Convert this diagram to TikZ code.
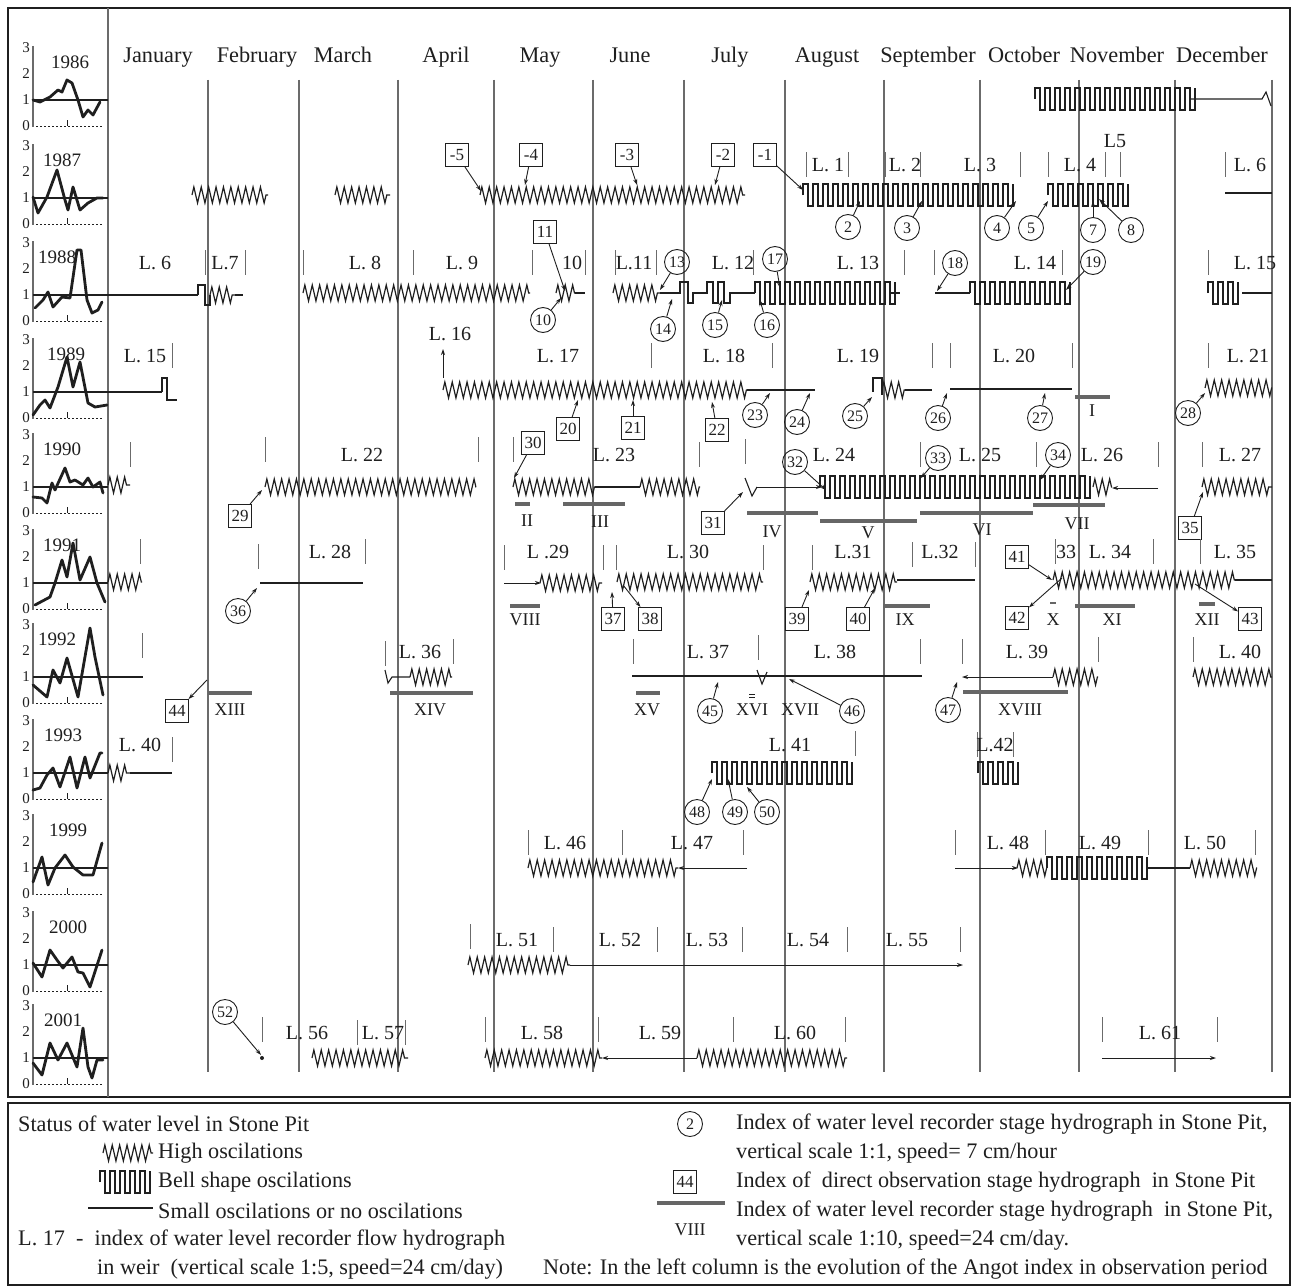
\documentclass[tikz,border=0pt]{standalone}
\usepackage{fontspec}
\setmainfont{Liberation Serif}
\usetikzlibrary{decorations.pathmorphing,arrows.meta}
\definecolor{ink}{gray}{0.12}
\definecolor{mline}{gray}{0.42}
\definecolor{stg}{gray}{0.40}
\tikzset{
  hiosc/.style={decorate,decoration={zigzag,segment length=7.4pt,amplitude=8pt},line width=1.2pt,draw=ink},
  wave/.style={line width=1.1pt,draw=ink},
  flat/.style={line width=1.5pt,draw=ink},
  monthline/.style={line width=1.1pt,draw=mline},
  tickl/.style={line width=1pt,draw=mline},
  stage/.style={line width=3.6pt,draw=stg},
  arr/.style={-{Stealth[length=6pt,width=4pt]},line width=0.9pt,draw=ink},
  llab/.style={font=\fontsize{20}{22}\selectfont,text=ink,inner sep=1pt},
  mlab/.style={font=\fontsize{22.3}{25}\selectfont,text=ink,inner sep=1pt,anchor=base},
  circ/.style={circle,draw=ink,line width=0.9pt,inner sep=0pt,minimum size=25pt,font=\fontsize{16}{17}\selectfont,text=ink},
  boxl/.style={rectangle,draw=ink,line width=0.9pt,inner sep=1pt,minimum width=23pt,minimum height=23pt,font=\fontsize{17}{18}\selectfont,text=ink},
  roml/.style={font=\fontsize{18}{19}\selectfont,text=ink,inner sep=1pt},
  yrlab/.style={font=\fontsize{19}{20}\selectfont,text=ink,inner sep=0pt},
  axlab/.style={font=\fontsize{15}{16}\selectfont,text=ink,inner sep=0pt},
  leg/.style={font=\fontsize{22.2}{24}\selectfont,text=ink,anchor=west,inner sep=0pt},
}
\newcommand\mkTick[2]{\draw[tickl] (#1,#2-13) -- (#1,#2+12);}
\newcommand\mkL[4]{\node[llab] (#1) at (#2,#3) {#4};}
\newcommand\mkC[4]{\node[circ] (c#1) at (#2,#3) {#1};\coordinate (t#1) at (#4);\draw[arr] (c#1) -- (t#1);}
\newcommand\mkB[5]{\node[boxl] (#1) at (#3,#4) {#2};\coordinate (#1t) at (#5);\draw[arr] (#1) -- (#1t);}
\newcommand\mkBR[5]{\node[boxl] (#1) at (#3,#4) {#2};\coordinate (#1t) at (#5);\draw[arr] (#1t) -- (#1);}
\newcommand\mkBell[3]{\pgfmathtruncatemacro\nbell{max(1,round((#2-(#1))/10))}\draw[wave] (#1,#3) -- (#1,#3-11) \foreach \k in {1,...,\nbell}{ -- ++(5,0) -- ++(0,22) -- ++(5,0) -- ++(0,-22)};}
\newcommand\mkStg[7]{\draw[stage] (#2,#4) -- (#3,#4);\node[roml] (#1) at (#6,#7) {#5};}
\newcommand\mkYear[4]{%
  \draw[line width=1.5pt,draw=mline] (33,#1-54) -- (33,#1+27);
  \draw[line width=1.1pt,draw=ink] (33,#1) -- (108,#1);
  \draw[line width=0.9pt,draw=ink,dash pattern=on 1.5pt off 2.5pt] (36,#1+26) -- (104,#1+26);
  \draw[line width=0.9pt,draw=ink] (67,#1+26) -- (67,#1+20);
  \node[axlab] (a#2x3) at (26,#1-52) {3};
  \node[axlab] (a#2x2) at (26,#1-26) {2};
  \node[axlab] (a#2x1) at (26,#1) {1};
  \node[axlab] (a#2x0) at (26,#1+26) {0};
  \node[yrlab] (y#2) at (#3,#1-38) {#2};
  \draw[line width=2.8pt,draw=ink,line join=round,line cap=round] plot coordinates {#4};
}
\begin{document}
\begin{tikzpicture}[x=1pt,y=-1pt]
\useasboundingbox[fill=white] (0,0) rectangle (1292,1287);
% frames
\draw[line width=2pt,draw=ink] (8,8) rectangle (1290,1097);
\draw[line width=1.2pt,draw=mline] (108,8) -- (108,1097);
\draw[line width=2pt,draw=ink] (8,1103) rectangle (1290,1285);
% months
\foreach \mx in {208,299,398,494,593,684,785,884,980,1079,1175,1272}{\draw[monthline] (\mx,80) -- (\mx,1072);}
\node[mlab] (mJan) at (158,63) {January};
\node[mlab] (mFeb) at (257,63) {February};
\node[mlab] (mMar) at (343,63) {March};
\node[mlab] (mApr) at (446,63) {April};
\node[mlab] (mMay) at (540,63) {May};
\node[mlab] (mJun) at (630,63) {June};
\node[mlab] (mJul) at (730,63) {July};
\node[mlab] (mAug) at (827,63) {August};
\node[mlab] (mSep) at (928,63) {September};
\node[mlab] (mOct) at (1024,63) {October};
\node[mlab] (mNov) at (1117,63) {November};
\node[mlab] (mDec) at (1222,63) {December};
% left column
\mkYear{100}{1986}{70}{(33,100) (40,102) (50,97) (58,90) (62,92) (67,80) (72,83) (78,100) (83,117) (88,110) (93,115) (100,102)}
\mkYear{198}{1987}{62}{(33,197) (38,213) (47,197) (57,170) (65,200) (68,210) (73,187) (80,210) (88,203) (97,198) (103,198)}
\mkYear{295}{1988}{57}{(35,308) (43,300) (48,292) (53,307) (62,297) (70,298) (77,250) (81,250) (87,300) (92,313) (98,310) (102,302)}
\mkYear{392}{1989}{66}{(33,415) (40,405) (45,400) (50,408) (58,387) (67,357) (73,387) (80,362) (88,403) (95,407) (107,405)}
\mkYear{487}{1990}{62}{(33,497) (42,498) (47,503) (52,483) (55,490) (65,468) (70,482) (75,480) (83,485) (88,478) (93,487) (100,482) (103,493)}
\mkYear{583}{1991}{62}{(35,605) (50,597) (55,583) (62,560) (67,577) (73,543) (80,580) (90,557) (97,583) (105,602)}
\mkYear{677}{1992}{57}{(33,685) (47,697) (53,670) (60,683) (67,658) (78,697) (90,628) (95,657) (103,695)}
\mkYear{773}{1993}{63}{(33,790) (40,788) (47,775) (53,768) (60,787) (70,757) (77,788) (85,757) (90,778) (100,753) (102,753)}
\mkYear{868}{1999}{68}{(33,882) (42,857) (48,885) (55,868) (65,855) (73,867) (83,875) (93,875) (102,843)}
\mkYear{965}{2000}{68}{(33,963) (42,977) (50,950) (57,960) (63,968) (72,957) (78,972) (83,973) (90,987) (102,950)}
\mkYear{1058}{2001}{63}{(33,1063) (42,1075) (50,1043) (58,1060) (67,1043) (77,1067) (83,1028) (88,1067) (92,1078) (97,1060) (103,1060)}
%% row 1986
\mkBell{1035}{1190}{99}
\draw[wave] (1190,99) -- (1262,99) -- (1266,92) -- (1271,106);
%% row 1987
\draw[hiosc] (192,195) -- (268,195);
\draw[hiosc] (335,195) -- (390,195);
\draw[hiosc] (480,195) -- (745,195);
\mkB{bm5}{-5}{457}{155}{481,191}
\mkB{bm4}{-4}{531}{155}{525,185}
\mkB{bm3}{-3}{627}{155}{637,185}
\mkB{bm2}{-2}{723}{155}{715,185}
\mkB{bm1}{-1}{765}{155}{803,190}
\mkBell{803}{1015}{195}
\mkBell{1048}{1125}{195}
\mkTick{806}{165}\mkL{L1}{828}{165}{L. 1}\mkTick{848}{165}
\mkTick{885}{165}\mkL{L2}{905}{165}{L. 2}\mkTick{920}{165}
\mkL{L3}{980}{165}{L. 3}\mkTick{1020}{165}
\mkTick{1048}{165}\mkL{L4}{1080}{165}{L. 4}\mkTick{1105}{165}\mkTick{1120}{165}
\mkL{L5}{1115}{141}{L5}
\mkTick{1225}{165}\mkL{L6a}{1250}{165}{L. 6}
\draw[flat] (1225,193) -- (1272,193);
\mkC{2}{848}{227}{860,201}
\mkC{3}{907}{228}{922,201}
\mkC{4}{997}{228}{1016,201}
\mkC{5}{1031}{228}{1048,201}
\mkC{7}{1093}{230}{1093,201}
\mkC{8}{1131}{230}{1099,199}
%% row 1988
\mkL{L6b}{155}{263}{L. 6}
\draw[flat] (108,295) -- (198,295);
\draw[wave] (198,295) -- (198,285) -- (205,285) -- (205,305) -- (210,305) -- (210,295);
\draw[hiosc] (210,295) -- (235,295);
\draw[wave] (235,295) -- (243,295);
\mkTick{205}{263}\mkL{L7}{225}{263}{L.7}\mkTick{245}{263}
\mkTick{303}{263}\mkL{L8}{365}{263}{L. 8}\mkTick{413}{263}
\draw[hiosc] (303,293) -- (530,293);
\mkL{L9}{462}{263}{L. 9}
\mkTick{532}{263}
\mkB{b11}{11}{545}{232}{565,291}
\mkL{L10}{572}{263}{10}\mkTick{585}{263}
\draw[hiosc] (556,293) -- (575,293);
\draw[wave] (575,293) -- (585,293);
\mkC{10}{543}{320}{561,298}
\mkTick{615}{263}\mkL{L11}{634}{263}{L.11}\mkTick{656}{263}
\mkC{13}{677}{262}{660,290}
\draw[hiosc] (613,293) -- (660,293);
\draw[wave] (660,293) -- (680,293) -- (680,282) -- (688,282) -- (688,303) -- (693,303) -- (693,293) -- (707,293) -- (707,282) -- (713,282) -- (713,303) -- (718,303) -- (718,282) -- (724,282) -- (724,303) -- (730,303) -- (730,293) -- (755,293);
\mkBell{755}{890}{293}
\draw[wave] (890,293) -- (900,293);
\mkL{L12}{733}{263}{L. 12}\mkTick{753}{263}
\mkC{17}{775}{259}{780,288}
\mkC{14}{663}{329}{672,299}
\mkC{15}{715}{325}{722,300}
\mkC{16}{767}{325}{760,300}
\mkL{L13}{858}{263}{L. 13}\mkTick{904}{263}
\mkTick{934}{263}
\mkC{18}{955}{263}{937,291}
\draw[wave] (935,293) -- (970,293);
\mkBell{970}{1065}{293}
\mkL{L14}{1035}{263}{L. 14}\mkTick{1062}{263}
\mkC{19}{1093}{262}{1066,290}
\mkTick{1208}{263}\mkL{L15a}{1255}{263}{L. 15}
\mkBell{1208}{1242}{293}
\draw[wave] (1242,293) -- (1272,293);
%% row 1989
\mkL{L15b}{145}{356}{L. 15}\mkTick{172}{356}
\draw[flat] (108,392) -- (162,392);
\draw[wave] (162,392) -- (162,378) -- (167,378) -- (167,400) -- (177,400);
\mkL{L16}{450}{334}{L. 16}
\coordinate (a16s) at (443,378);
\coordinate (a16e) at (443,349);
\draw[arr] (a16s) -- (a16e);
\draw[hiosc] (443,390) -- (747,390);
\mkL{L17}{558}{356}{L. 17}\mkTick{651}{356}
\mkL{L18}{724}{356}{L. 18}\mkTick{772}{356}
\draw[flat] (747,390) -- (815,390);
\mkB{b20}{20}{568}{429}{578,400}
\mkB{b21}{21}{633}{428}{633,400}
\mkB{b22}{22}{717}{430}{712,402}
\mkC{23}{755}{415}{770,393}
\mkC{24}{797}{422}{810,393}
\mkL{L19}{858}{356}{L. 19}
\mkC{25}{855}{416}{872,397}
\draw[wave] (873,392) -- (873,378) -- (882,378) -- (882,395);
\draw[hiosc] (882,390) -- (905,390);
\draw[wave] (905,390) -- (932,390);
\mkTick{932}{356}\mkTick{950}{356}
\draw[flat] (950,389) -- (1072,389);
\mkL{L20}{1014}{356}{L. 20}\mkTick{1072}{356}
\mkC{26}{938}{418}{947,393}
\mkC{27}{1040}{418}{1045,393}
\mkStg{sI}{1075}{1110}{397}{I}{1092}{411}
\mkTick{1208}{356}\mkL{L21}{1248}{356}{L. 21}
\mkC{28}{1188}{413}{1205,393}
\draw[hiosc] (1205,388) -- (1272,388);
%% row 1990
\draw[hiosc] (108,485) -- (130,485);\mkTick{130}{455}
\mkTick{265}{450}\mkL{L22}{362}{455}{L. 22}\mkTick{478}{450}
\draw[hiosc] (265,487) -- (476,487);
\mkB{b29}{29}{240}{516}{262,490}
\mkTick{513}{450}
\mkB{b30}{30}{533}{443}{514,478}
\draw[hiosc] (513,487) -- (595,487);
\draw[flat] (595,487) -- (640,487);
\draw[hiosc] (640,487) -- (700,487);
\mkL{L23}{614}{455}{L. 23}
\mkStg{sII}{515}{530}{504}{II}{527}{521}
\mkStg{sIII}{563}{625}{504}{III}{600}{522}
\mkTick{699}{455}\mkTick{745}{452}
\draw[wave] (745,478) -- (752,496) -- (757,487);
\coordinate (w24s) at (757,487);
\coordinate (w24e) at (822,487);
\draw[arr] (w24s) -- (w24e);
\mkBell{820}{1093}{487}
\draw[hiosc] (1093,487) -- (1112,487);
\coordinate (w26s) at (1158,488);
\coordinate (w26e) at (1112,488);
\draw[arr] (w26s) -- (w26e);
\mkTick{1158}{455}
\mkB{b31}{31}{713}{523}{743,492}
\mkC{32}{795}{462}{826,490}
\mkL{L24}{834}{455}{L. 24}
\mkStg{sIV}{747}{818}{513}{IV}{772}{532}
\mkStg{sV}{820}{917}{521}{V}{868}{533}
\mkStg{sVI}{920}{1033}{513}{VI}{982}{530}
\mkStg{sVII}{1033}{1105}{505}{VII}{1077}{524}
\mkTick{920}{455}
\mkC{33}{938}{458}{921,478}
\mkL{L25}{980}{455}{L. 25}
\mkTick{1036}{455}
\mkC{34}{1058}{455}{1040,480}
\mkL{L26}{1102}{455}{L. 26}
\mkTick{1202}{455}\mkL{L27}{1240}{455}{L. 27}
\draw[hiosc] (1202,487) -- (1272,487);
\mkB{b35}{35}{1190}{528}{1203,492}
%% row 1991
\draw[hiosc] (108,582) -- (142,582);\mkTick{140}{552}
\mkTick{258}{557}\mkL{L28}{330}{552}{L. 28}\mkTick{365}{552}
\draw[flat] (260,583) -- (363,583);
\mkC{36}{238}{611}{257,588}
\mkTick{504}{558}\mkL{L29}{548}{552}{L .29}
\coordinate (w29s) at (504,583);
\coordinate (w29e) at (541,583);
\draw[arr] (w29s) -- (w29e);
\draw[hiosc] (540,583) -- (602,583);
\mkTick{603}{558}\mkTick{616}{558}
\draw[hiosc] (617,582) -- (763,582);
\mkL{L30}{688}{552}{L. 30}\mkTick{763}{558}
\mkStg{sVIII}{510}{540}{606}{VIII}{525}{620}
\mkB{b37}{37}{613}{619}{612,592}
\mkBR{b38}{38}{650}{619}{623,585}
\mkTick{812}{558}\mkL{L31}{853}{552}{L.31}
\draw[hiosc] (810,582) -- (897,582);
\draw[flat] (897,580) -- (975,580);
\mkTick{912}{555}\mkL{L32}{940}{552}{L.32}\mkTick{975}{555}
\mkB{b39}{39}{797}{619}{809,590}
\mkB{b40}{40}{858}{619}{875,588}
\mkStg{sIX}{883}{930}{606}{IX}{905}{620}
\mkB{b41}{41}{1017}{557}{1052,580}
\mkTick{1055}{552}\mkL{L33}{1066}{552}{33}
\mkL{L34}{1110}{552}{L. 34}\mkTick{1153}{552}
\mkTick{1200}{552}\mkL{L35}{1235}{552}{L. 35}
\draw[hiosc] (1053,580) -- (1235,580);
\draw[flat] (1235,580) -- (1272,580);
\mkBR{b42}{42}{1017}{618}{1062,578}
\node[roml] (rX) at (1053,620) {X};
\draw[line width=2pt,draw=stg] (1050,603) -- (1056,603);
\mkStg{sXI}{1075}{1135}{606}{XI}{1112}{620}
\node[roml] (rXII) at (1207,620) {XII};
\draw[stage] (1199,604) -- (1215,604);
\mkBR{b43}{43}{1250}{619}{1195,584}
%% row 1992
\draw[flat] (108,677) -- (143,677);\mkTick{142}{646}
\mkBR{b44}{44}{177}{711}{207,680}
\mkStg{sXIII}{208}{252}{693}{XIII}{230}{710}
\mkTick{385}{654}\mkL{L36}{420}{652}{L. 36}\mkTick{453}{652}
\draw[wave] (385,670) -- (388,683) -- (392,677) -- (410,677);
\draw[hiosc] (410,677) -- (452,677);
\mkStg{sXIV}{390}{473}{693}{XIV}{430}{710}
\mkTick{633}{652}\mkL{L37}{708}{652}{L. 37}\mkTick{758}{648}
\mkL{L38}{835}{652}{L. 38}
\draw[flat] (632,676) -- (922,676);
\draw[wave] (757,670) -- (762,684) -- (767,672);
\mkStg{sXV}{636}{660}{693}{XV}{647}{710}
\mkC{45}{710}{711}{718,682}
\node[roml] (rXVI) at (752,710) {XVI};
\draw[line width=0.8pt,draw=ink] (749,694) -- (755,694) (749,697) -- (755,697);
\node[roml] (rXVII) at (800,710) {XVII};
\mkC{46}{852}{711}{789,679}
\mkTick{920}{652}\mkTick{962}{652}
\mkL{L39}{1027}{652}{L. 39}
\coordinate (w39s) at (1053,677);
\coordinate (w39e) at (962,677);
\draw[arr] (w39s) -- (w39e);
\draw[hiosc] (1053,677) -- (1098,677);
\mkTick{1098}{650}
\mkC{47}{948}{710}{957,682}
\mkStg{sXVIII}{963}{1068}{692}{XVIII}{1020}{710}
\mkTick{1193}{650}\mkL{L40a}{1240}{652}{L. 40}
\draw[hiosc] (1193,677) -- (1272,677);
%% row 1993
\draw[hiosc] (108,773) -- (130,773);
\draw[flat] (130,773) -- (172,773);
\mkL{L40b}{140}{745}{L. 40}\mkTick{172}{750}
\mkL{L41}{790}{745}{L. 41}\mkTick{855}{744}
\mkBell{712}{855}{773}
\mkC{48}{697}{812}{712,779}
\mkC{49}{735}{812}{728,779}
\mkC{50}{767}{812}{747,787}
\mkTick{977}{745}\mkL{L42}{995}{745}{L.42}\mkTick{1013}{745}
\mkBell{978}{1013}{773}
%% row 1999
\mkTick{528}{843}\mkL{L46}{565}{843}{L. 46}\mkTick{622}{843}
\mkL{L47}{692}{843}{L. 47}\mkTick{743}{843}
\draw[hiosc] (528,868) -- (678,868);
\coordinate (w47s) at (747,868);
\coordinate (w47e) at (678,868);
\draw[arr] (w47s) -- (w47e);
\mkTick{955}{843}\mkL{L48}{1008}{843}{L. 48}\mkTick{1045}{843}
\mkL{L49}{1100}{843}{L. 49}\mkTick{1148}{843}
\mkL{L50}{1205}{843}{L. 50}\mkTick{1255}{843}
\coordinate (w48s) at (955,868);
\coordinate (w48e) at (1018,868);
\draw[arr] (w48s) -- (w48e);
\draw[hiosc] (1017,868) -- (1047,868);
\mkBell{1047}{1147}{868}
\draw[wave] (1147,868) -- (1190,868);
\draw[hiosc] (1190,868) -- (1257,868);
%% row 2000
\mkTick{470}{937}\mkL{L51}{517}{940}{L. 51}\mkTick{553}{940}
\mkL{L52}{620}{940}{L. 52}\mkTick{657}{940}
\mkL{L53}{707}{940}{L. 53}\mkTick{742}{940}
\mkL{L54}{808}{940}{L. 54}\mkTick{847}{940}
\mkL{L55}{907}{940}{L. 55}\mkTick{960}{940}
\draw[hiosc] (468,965) -- (570,965);
\coordinate (w51s) at (570,965);
\coordinate (w51e) at (963,965);
\draw[arr] (w51s) -- (w51e);
%% row 2001
\mkC{52}{225}{1012}{261,1055}
\fill[ink] (262,1058) circle (2pt);
\mkTick{262}{1030}\mkL{L56}{307}{1033}{L. 56}\mkTick{357}{1033}
\mkL{L57}{383}{1033}{L. 57}\mkTick{405}{1033}
\draw[hiosc] (312,1058) -- (408,1058);
\mkTick{485}{1030}\mkL{L58}{542}{1033}{L. 58}\mkTick{598}{1030}
\mkL{L59}{660}{1033}{L. 59}\mkTick{733}{1030}
\mkL{L60}{795}{1033}{L. 60}\mkTick{845}{1030}
\draw[hiosc] (485,1058) -- (602,1058);
\coordinate (w59s) at (697,1058);
\coordinate (w59e) at (602,1058);
\draw[arr] (w59s) -- (w59e);
\draw[hiosc] (697,1058) -- (847,1058);
\mkTick{1102}{1030}\mkL{L61}{1160}{1033}{L. 61}\mkTick{1217}{1030}
\coordinate (w61s) at (1102,1058);
\coordinate (w61e) at (1216,1058);
\draw[arr] (w61s) -- (w61e);
%% legend
\node[leg] (lg1) at (18,1124) {Status of water level in Stone Pit};
\draw[hiosc] (103,1153) -- (153,1153);
\node[leg] (lg2) at (158,1153) {High oscilations};
\mkBell{100}{150}{1182}
\node[leg] (lg3) at (158,1182) {Bell shape oscilations};
\draw[flat] (88,1208) -- (153,1208);
\node[leg] (lg4) at (158,1211) {Small oscilations or no oscilations};
\node[leg] (lg5) at (18,1240) {L. 17\ \ -\ \ index of water level recorder flow hydrograph};
\node[leg] (lg6) at (97,1269) {in weir\ \ (vertical scale 1:5, speed=24 cm/day)};
\node[leg] (lg7) at (543,1269) {Note: In the left column is the evolution of the Angot index in observation period};
\node[circ] (lgc) at (690,1124) {2};
\node[leg] (lg8) at (736,1124) {Index of water level recorder stage hydrograph in Stone Pit,};
\node[leg] (lg9) at (736,1153) {vertical scale 1:1, speed= 7 cm/hour};
\node[boxl] (lgb) at (685,1182) {44};
\node[leg] (lg10) at (736,1182) {Index of\ \ direct observation stage hydrograph\ \ in Stone Pit};
\draw[stage] (657,1203) -- (725,1203);
\node[roml] (lgr) at (690,1230) {VIII};
\node[leg] (lg11) at (736,1211) {Index of water level recorder stage hydrograph\ \ in Stone Pit,};
\node[leg] (lg12) at (736,1240) {vertical scale 1:10, speed=24 cm/day.};
\end{tikzpicture}
\end{document}
